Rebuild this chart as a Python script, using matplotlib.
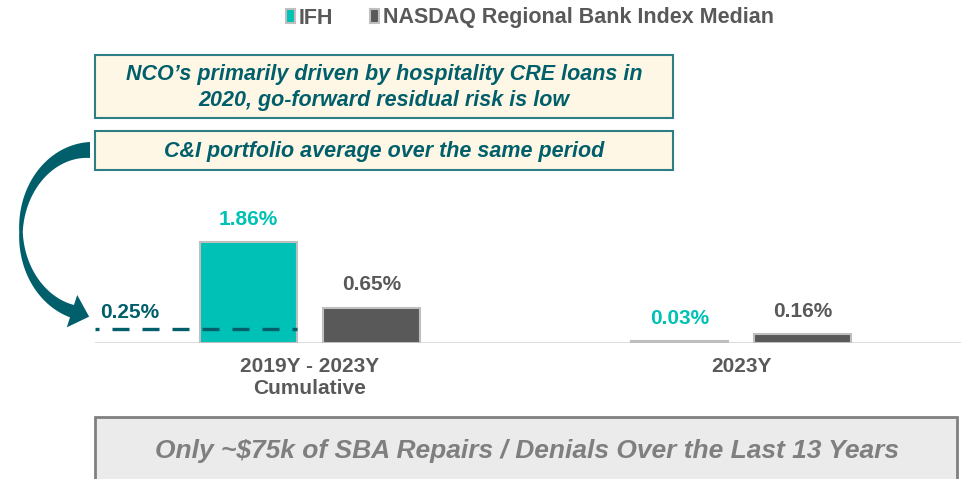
import numpy as np
import matplotlib
matplotlib.use('Agg')
import matplotlib.pyplot as plt
from matplotlib.patches import Rectangle, Polygon

plt.rcParams['font.family'] = ['Liberation Sans', 'DejaVu Sans']

# data
groups = ['2019Y - 2023Y\nCumulative', '2023Y']
ifh = [1.86, 0.03]
nasdaq = [0.65, 0.16]
ci_avg = 0.25
series_names = ['IFH', 'NASDAQ Regional Bank Index Median']
note_top = 'NCO\u2019s primarily driven by hospitality CRE loans in\n2020, go-forward residual risk is low'
note_ci = 'C&I portfolio average over the same period'
note_bottom = 'Only ~$75k of SBA Repairs / Denials Over the Last 13 Years'

TEAL = '#00C1B5'
GREY = '#595959'
DARK = '#005F6B'
W, H = 961, 479

fig = plt.figure(figsize=(W / 100, H / 100), dpi=100)

# main bar axes (pixel geometry from the reference)
ax = fig.add_axes([95 / W, 136 / H, (W - 95) / W, 143 / H])
x = np.arange(len(groups))
bw = 0.225
off = 0.143
b1 = ax.bar(x - off, ifh, bw, color=TEAL, edgecolor='#BFBFBF', linewidth=1.5, label=series_names[0], zorder=2)
b2 = ax.bar(x + off, nasdaq, bw, color=GREY, edgecolor='#BFBFBF', linewidth=1.5, label=series_names[1], zorder=2)
ax.set_xlim(-0.4988, 1.5104)
ax.set_ylim(0, 143 / 54.3)
ax.axhline(0, color='#D9D9D9', linewidth=2, zorder=1)
for s in ax.spines.values():
    s.set_visible(False)
ax.set_yticks([])
ax.set_xticks(x)
ax.set_xticklabels(groups, fontsize=15, fontweight='bold', color=GREY)
ax.tick_params(axis='x', length=0, pad=10)

for xi, v in zip(x - off, ifh):
    ax.annotate(f'{v:.2f}%', (xi, v), xytext=(0, 16.5), textcoords='offset points',
                ha='center', va='center', fontsize=15, fontweight='bold', color=TEAL)
for xi, v in zip(x + off, nasdaq):
    ax.annotate(f'{v:.2f}%', (xi, v), xytext=(0, 16.5), textcoords='offset points',
                ha='center', va='center', fontsize=15, fontweight='bold', color=GREY)

# C&I average dashed line
ax.plot([-0.4988, -off + bw / 2], [ci_avg, ci_avg], color=DARK, linewidth=2.4,
        linestyle=(3.9, (5.1, 3.9)), dash_capstyle='butt', zorder=3)
ax.annotate(f'{ci_avg:.2f}%', (-0.487, ci_avg), xytext=(0, 12), textcoords='offset points',
            ha='left', va='center', fontsize=15, fontweight='bold', color=DARK)

fig.legend(handles=[b1, b2], loc='center', bbox_to_anchor=(530 / W, 1 - 18 / H), ncol=2,
           frameon=False, prop={'size': 15.5, 'weight': 'bold'}, labelcolor=GREY,
           handlelength=0.4, handleheight=0.6, handletextpad=0.2, columnspacing=1.7)

# overlay for boxes and arrow, in pixel coords (y down)
ov = fig.add_axes([0, 0, 1, 1], zorder=5)
ov.set_xlim(0, W)
ov.set_ylim(H, 0)
ov.axis('off')

ov.add_patch(Rectangle((95, 55), 578, 63, facecolor='#FFF7E5', edgecolor='#2E7F85', linewidth=1.5))
ov.text(384, 87.5, note_top, ha='center', va='center', fontsize=15.5, fontweight='bold',
        fontstyle='italic', color=DARK, linespacing=1.3)
ov.add_patch(Rectangle((95, 131), 578, 39, facecolor='#FFF7E5', edgecolor='#2E7F85', linewidth=1.5))
ov.text(384, 151, note_ci, ha='center', va='center', fontsize=15.5, fontweight='bold',
        fontstyle='italic', color=DARK)

ov.add_patch(Rectangle((95, 417), 862, 80, facecolor='#EBEBEB', edgecolor='#808080', linewidth=2))
ov.text(527, 451, note_bottom, ha='center', va='center', fontsize=19, fontweight='bold',
        fontstyle='italic', color='#7F7F7F')

# curved arrow from the C&I box down to the dashed line
cx, cy, rx, ry = 90, 232, 69, 82
th = np.pi - 0.264
t = np.linspace(0, th, 120)
px = cx - rx * np.sin(t)
py = cy - ry * np.cos(t)
tx = -rx * np.cos(t)
ty = ry * np.sin(t)
n = np.hypot(tx, ty)
tx, ty = tx / n, ty / n
nx, ny = -ty, tx
w = np.interp(t, [0, np.pi / 2, th], [16, 3.5, 13]) / 2
side1 = np.column_stack([px + nx * w, py + ny * w])
side2 = np.column_stack([px - nx * w, py - ny * w])
hw, hl = 17, 18
P = np.array([px[-1], py[-1]])
Tv = np.array([tx[-1], ty[-1]])
Nv = np.array([nx[-1], ny[-1]])
head = np.array([P + Nv * hw, P + Tv * hl, P - Nv * hw])
pts = np.vstack([side1, head, side2[::-1]])
ov.add_patch(Polygon(pts, closed=True, facecolor=DARK, edgecolor='none'))

fig.savefig('out.png', dpi=100)
